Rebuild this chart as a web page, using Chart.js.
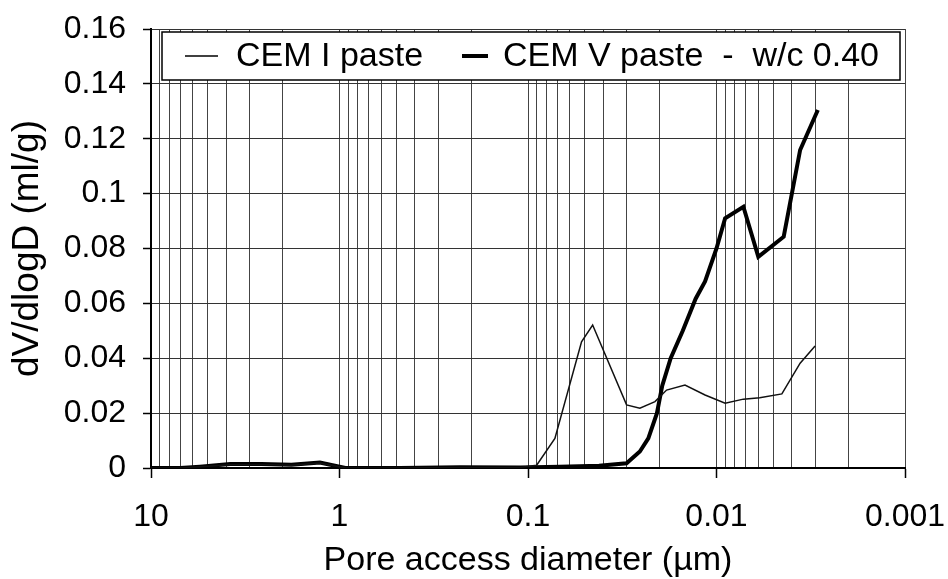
<!DOCTYPE html>
<html>
<head>
<meta charset="utf-8">
<script src="https://cdn.jsdelivr.net/npm/chart.js@4/dist/chart.umd.min.js"></script>
<style>
  html, body { margin: 0; padding: 0; background: #fff; }
  #wrap { width: 948px; height: 579px; position: relative; }
</style>
</head>
<body>
<div id="wrap"><canvas id="chart_poreSize"></canvas></div>
<script>
// pore access diameter (um) and dV/dlogD (ml/g)
var cem1Diameter = [10, 7, 5.5, 3.8, 2.6, 1.8, 1.27, 0.93, 0.48, 0.23, 0.11, 0.09, 0.072, 0.052, 0.0454, 0.03, 0.0255, 0.0212, 0.0184, 0.0147, 0.0115, 0.009, 0.0072, 0.0059, 0.0045, 0.0036, 0.003];
var cem1Value = [0, 0, 0.0005, 0.0012, 0.0013, 0.001, 0.0018, 0, 0, 0.0002, 0.0002, 0.001, 0.0108, 0.046, 0.0521, 0.023, 0.0218, 0.0242, 0.0284, 0.0302, 0.0266, 0.0236, 0.0251, 0.0256, 0.027, 0.0382, 0.0445];

var cem5Diameter = [10, 7, 5.5, 3.8, 2.6, 1.8, 1.27, 0.93, 0.48, 0.23, 0.11, 0.068, 0.042, 0.03, 0.0255, 0.023, 0.0207, 0.0194, 0.0175, 0.0151, 0.0129, 0.0115, 0.01, 0.009, 0.0072, 0.006, 0.0044, 0.0036, 0.0029];
var cem5Value = [0, 0, 0.0005, 0.0015, 0.0015, 0.0012, 0.002, 0, 0, 0.0003, 0.0002, 0.0005, 0.0008, 0.0017, 0.006, 0.0108, 0.02, 0.03, 0.04, 0.05, 0.0617, 0.068, 0.08, 0.091, 0.0952, 0.077, 0.0843, 0.1159, 0.1305];

var seriesLabels = ['CEM I paste', 'CEM V paste  -  w/c 0.40'];

var xDecades = [10, 1, 0.1, 0.01, 0.001];
var xTickLabels = ['10', '1', '0.1', '0.01', '0.001'];
var xMinorSteps = [2, 3, 4, 5, 6, 7, 8, 9];
var yTicks = [0, 0.02, 0.04, 0.06, 0.08, 0.1, 0.12, 0.14, 0.16];

function toPoints(xs, ys) {
    return xs.map(function (x, i) { return { x: x, y: ys[i] }; });
}

// every gridline on the log axis: decades plus 2..9 inside each decade
var xGridValues = [];
xDecades.forEach(function (d) {
    xGridValues.push(d);
    if (d < 10) {
        xMinorSteps.forEach(function (k) { xGridValues.push(+(d * k).toPrecision(3)); });
    }
});
xGridValues.sort(function (a, b) { return a - b; });

function isDecade(v) {
    return xDecades.some(function (d) { return Math.abs(v - d) / d < 1e-6; });
}

var FONT = 'Liberation Sans, Arial, Helvetica, sans-serif';

var chart_poreSize = new Chart(document.getElementById('chart_poreSize'), {
    type: 'line',
    data: {
        datasets: [
            {
                label: seriesLabels[0],
                data: toPoints(cem1Diameter, cem1Value),
                borderColor: '#111',
                borderWidth: 1.5,
                pointRadius: 0,
                tension: 0,
                fill: false
            },
            {
                label: seriesLabels[1],
                data: toPoints(cem5Diameter, cem5Value),
                borderColor: '#000',
                borderWidth: 4,
                pointRadius: 0,
                tension: 0,
                fill: false
            }
        ]
    },
    options: {
        animation: false,
        responsive: true,
        maintainAspectRatio: false,
        layout: { padding: { top: 29, right: 43, left: 0, bottom: 0 } },
        plugins: {
            legend: { display: false },
            tooltip: { enabled: false }
        },
        scales: {
            x: {
                type: 'logarithmic',
                reverse: true,
                min: 0.001,
                max: 10,
                afterBuildTicks: function (scale) {
                    scale.ticks = xGridValues.map(function (v) { return { value: v, major: isDecade(v) }; });
                },
                afterFit: function (scale) { scale.height = 111; },
                ticks: {
                    autoSkip: false,
                    maxRotation: 0,
                    padding: 20,
                    color: '#000',
                    font: { family: FONT, size: 32 },
                    callback: function (value) {
                        var i = xDecades.findIndex(function (d) { return Math.abs(value - d) / d < 1e-6; });
                        return i >= 0 ? xTickLabels[i] : '';
                    }
                },
                grid: {
                    color: '#444',
                    lineWidth: 1,
                    tickLength: 10,
                    tickColor: function (ctx) {
                        return ctx.tick && isDecade(ctx.tick.value) ? '#000' : 'rgba(0,0,0,0)';
                    },
                    tickWidth: 1.5
                },
                border: { display: true, color: '#000', width: 2 },
                title: {
                    display: true,
                    text: 'Pore access diameter (µm)',
                    color: '#000',
                    font: { family: FONT, size: 34, lineHeight: 1 },
                    padding: { top: 0, bottom: 1 }
                }
            },
            y: {
                type: 'linear',
                min: 0,
                max: 0.16,
                afterBuildTicks: function (scale) {
                    scale.ticks = yTicks.map(function (v) { return { value: v }; });
                },
                afterFit: function (scale) {
                    scale.width = 151;
                    scale.paddingTop = 0;
                    scale.paddingBottom = 0;
                },
                ticks: {
                    padding: 17,
                    color: '#000',
                    font: { family: FONT, size: 32 },
                    callback: function (value) { return String(+value.toFixed(2)); }
                },
                grid: {
                    color: '#333',
                    lineWidth: 1,
                    tickLength: 8,
                    tickColor: '#000',
                    tickWidth: 1.5
                },
                border: { display: true, color: '#000', width: 2 },
                title: {
                    display: true,
                    text: 'dV/dlogD (ml/g)',
                    color: '#000',
                    font: { family: FONT, size: 37, lineHeight: 1.2 },
                    padding: { top: 6, bottom: 0 }
                }
            }
        }
    },
    plugins: [{
        id: 'whiteBackground',
        beforeDraw: function (chart) {
            var ctx = chart.ctx;
            ctx.save();
            ctx.fillStyle = '#fff';
            ctx.fillRect(0, 0, chart.width, chart.height);
            ctx.restore();
        }
    }, {
        id: 'boxedLegend',
        afterDatasetsDraw: function (chart) {
            var ctx = chart.ctx;
            var area = chart.chartArea;
            var ds = chart.data.datasets;
            var left = area.left + 11, top = area.top + 3;
            var right = area.right - 5, bottom = area.top + 51;
            var midY = (top + bottom) / 2;
            ctx.save();
            ctx.fillStyle = '#fff';
            ctx.fillRect(left, top, right - left, bottom - top);
            ctx.strokeStyle = '#000';
            ctx.lineWidth = 1.5;
            ctx.strokeRect(left, top, right - left, bottom - top);
            ctx.font = '34px ' + FONT;
            ctx.fillStyle = '#000';
            ctx.textBaseline = 'middle';
            // item 1
            ctx.beginPath();
            ctx.lineWidth = ds[0].borderWidth;
            ctx.moveTo(left + 23, midY);
            ctx.lineTo(left + 56, midY);
            ctx.stroke();
            ctx.fillText(ds[0].label, left + 74, midY + 1);
            // item 2
            ctx.beginPath();
            ctx.lineWidth = ds[1].borderWidth;
            ctx.moveTo(left + 300, midY);
            ctx.lineTo(left + 326, midY);
            ctx.stroke();
            ctx.fillText(ds[1].label, left + 341, midY + 1);
            ctx.restore();
        }
    }]
});
</script>
</body>
</html>
